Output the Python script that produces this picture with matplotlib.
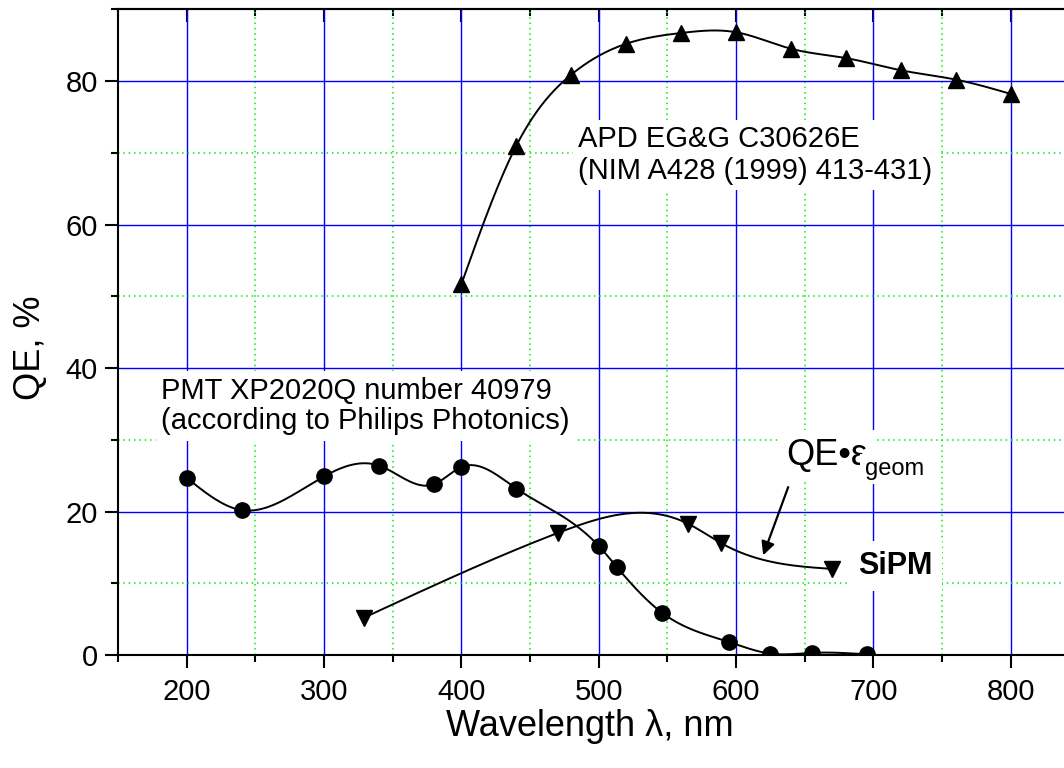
import numpy as np
import matplotlib
matplotlib.use("Agg")
import matplotlib.pyplot as plt
from matplotlib.ticker import MultipleLocator

plt.rcParams['font.family'] = ['Liberation Sans', 'DejaVu Sans']

# APD EG&G C30626E
apd_wl = [400, 440, 480, 520, 560, 600, 640, 680, 720, 760, 800]
apd_qe = [51.7, 71.0, 80.9, 85.2, 86.7, 86.8, 84.5, 83.2, 81.5, 80.2, 78.2]

# PMT XP2020Q number 40979
pmt_wl = [200, 240, 300, 340, 380, 400, 440, 500, 513, 546, 595, 625, 655, 695]
pmt_qe = [24.7, 20.2, 24.9, 26.4, 23.8, 26.2, 23.2, 15.2, 12.3, 5.9, 1.8, 0.2, 0.3, 0.1]

# SiPM, QE x geometric efficiency
sipm_wl = [329, 470, 565, 589, 670]
sipm_qe = [5.2, 17.0, 18.3, 15.6, 12.0]


def natural_spline(x, y, num=400):
    # natural cubic spline through the measured points
    x = np.asarray(x, float)
    y = np.asarray(y, float)
    n = len(x)
    h = np.diff(x)
    A = np.zeros((n, n))
    b = np.zeros(n)
    A[0, 0] = A[-1, -1] = 1
    for i in range(1, n - 1):
        A[i, i - 1] = h[i - 1]
        A[i, i] = 2 * (h[i - 1] + h[i])
        A[i, i + 1] = h[i]
        b[i] = 6 * ((y[i + 1] - y[i]) / h[i] - (y[i] - y[i - 1]) / h[i - 1])
    M = np.linalg.solve(A, b)
    xs = np.linspace(x[0], x[-1], num)
    k = np.clip(np.searchsorted(x, xs) - 1, 0, n - 2)
    t0 = x[k + 1] - xs
    t1 = xs - x[k]
    hk = h[k]
    ys = ((M[k] * t0**3 + M[k + 1] * t1**3) / (6 * hk)
          + (y[k] / hk - M[k] * hk / 6) * t0
          + (y[k + 1] / hk - M[k + 1] * hk / 6) * t1)
    return xs, ys


fig = plt.figure(figsize=(10.64, 7.68), dpi=100)
ax = fig.add_axes([0.1109, 0.1471, 0.9037, 0.8408])
ax.set_xlim(150, 850)
ax.set_ylim(0, 90)

# grid: blue solid major, green dotted minor
ax.xaxis.set_major_locator(MultipleLocator(100))
ax.xaxis.set_minor_locator(MultipleLocator(50))
ax.yaxis.set_major_locator(MultipleLocator(20))
ax.yaxis.set_minor_locator(MultipleLocator(10))
ax.grid(which='major', color='#0000ff', lw=1.0, ls='-')
ax.grid(which='minor', color='#00ee00', lw=1.1, ls=(0, (1, 2.5)))
ax.set_axisbelow(True)

for sp in ['left', 'bottom', 'top']:
    ax.spines[sp].set_linewidth(1.5)
ax.spines['right'].set_visible(False)

ax.tick_params(which='major', direction='out', length=9.5, width=1.5,
               labelsize=21, pad=7)
ax.tick_params(which='minor', direction='out', length=5, width=1.5)
ax.tick_params(axis='y', which='major', pad=5)

top = ax.secondary_xaxis('top')
top.xaxis.set_major_locator(MultipleLocator(100))
top.xaxis.set_minor_locator(MultipleLocator(50))
top.tick_params(which='major', direction='in', length=9.5, width=1.5, labeltop=False)
top.tick_params(which='minor', direction='in', length=5, width=1.5)
top.spines['top'].set_linewidth(1.5)

# curves
xs, ys = natural_spline(apd_wl, apd_qe)
ax.plot(xs, ys, color='k', lw=1.4, zorder=4)
ax.plot(apd_wl, apd_qe, '^', color='k', ms=11, zorder=5)

xs, ys = natural_spline(pmt_wl, pmt_qe)
ax.plot(xs, ys, color='k', lw=1.4, zorder=4)
ax.plot(pmt_wl, pmt_qe, 'o', color='k', ms=11, zorder=5)

xs, ys = natural_spline(sipm_wl, sipm_qe)
ax.plot(xs, ys, color='k', lw=1.4, zorder=4)
ax.plot(sipm_wl, sipm_qe, 'v', color='k', ms=12, zorder=5)

# labels on the plot
box = dict(facecolor='white', edgecolor='none', pad=4)
ax.text(485, 69.7, "APD EG&G C30626E\n(NIM A428 (1999) 413-431)",
        fontsize=21, ha='left', va='center', linespacing=1.15, bbox=box)
ax.text(181.5, 34.7, "PMT XP2020Q number 40979\n(according to Philips Photonics)",
        fontsize=21, ha='left', va='center', linespacing=1.1, bbox=box)
ax.text(636.6, 26.5, "QE•ε", fontsize=26, ha='left', va='baseline',
        bbox=dict(facecolor='white', edgecolor='none', pad=6))
ax.text(693.5, 25.1, "geom", fontsize=17, ha='left', va='baseline',
        bbox=dict(facecolor='white', edgecolor='none', pad=3))
ax.text(688.7, 11.3, "SiPM", fontsize=22, fontweight='bold',
        ha='left', va='baseline',
        bbox=dict(facecolor='white', edgecolor='none', pad=7))

ax.annotate('', xy=(619.7, 13.9), xytext=(637.9, 23.4),
            arrowprops=dict(arrowstyle='-|>', color='k', lw=1.6,
                            mutation_scale=20, shrinkA=0, shrinkB=0),
            zorder=6)

ax.set_xlabel("Wavelength λ, nm", fontsize=26)
ax.xaxis.label.set_va('center')
ax.xaxis.set_label_coords(0.491, -0.111)
ax.set_ylabel("QE, %", fontsize=26)
ax.yaxis.label.set_va('center')
ax.yaxis.set_label_coords(-0.0915, 0.4754)

fig.savefig('out.png', dpi=100)
